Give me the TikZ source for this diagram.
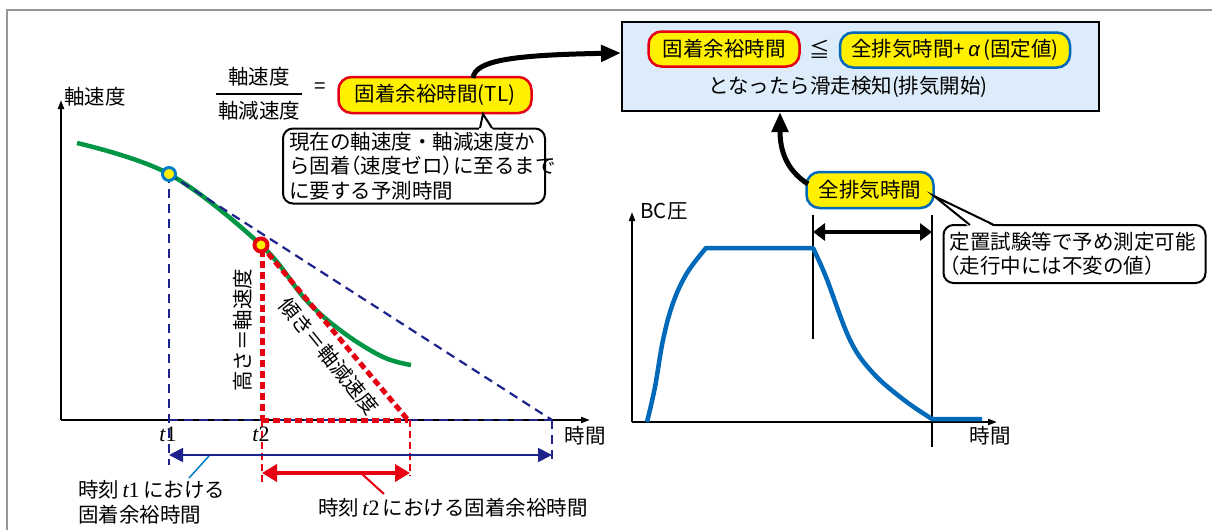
\documentclass[tikz,border=0pt]{standalone}
\usepackage[no-math]{fontspec}
\setmainfont{Noto Sans CJK JP}
\newfontfamily\hwfont[RawFeature=+halt]{Noto Sans CJK JP}
\newfontfamily\serifx{Liberation Serif}
\newfontfamily\sansx{Liberation Sans}
\newcommand{\hwp}[1]{{\hwfont #1}}
\newcommand{\tlab}[1]{{\serifx\fontsize{22}{24}\selectfont\itshape t\upshape #1}}
\usetikzlibrary{arrows.meta}
\definecolor{navy}{RGB}{30,35,140}
\definecolor{myred}{RGB}{230,0,18}
\definecolor{mygreen}{RGB}{0,150,70}
\definecolor{myblue}{RGB}{0,105,185}
\definecolor{ptblue}{RGB}{0,125,200}
\definecolor{myyellow}{RGB}{255,240,0}
\definecolor{boxblue}{RGB}{220,236,250}
\definecolor{framegray}{RGB}{150,150,150}
\begin{document}
\begin{tikzpicture}[x=1pt,y=-1pt,
  txt/.style={font=\fontsize{20.5}{24.5}\selectfont, inner sep=0pt},
  pill/.style={txt, rounded corners=13pt, fill=myyellow, line width=2.5pt, minimum height=36pt},
  pillred/.style={pill, draw=myred},
  pillblue/.style={pill, draw=myblue},
  axis/.style={line width=2pt, -{Triangle[length=9pt,width=6pt]}},
  bdash/.style={navy, line width=2.2pt, dash pattern=on 9pt off 6pt},
  rdash/.style={myred, line width=5pt, dash pattern=on 7pt off 4pt},
  rthin/.style={myred, line width=2pt, dash pattern=on 7pt off 4pt},
  callout/.style={txt, draw, fill=white, line width=2pt, rounded corners=10pt, align=left, inner xsep=6pt},
  bigarrow/.style={line width=5pt, -{Triangle[length=20pt,width=16pt]}},
  dot/.style={circle, fill=myyellow, minimum size=13pt, inner sep=0pt},
]
\useasboundingbox (0,0) rectangle (1212,530);
% frame
\coordinate (f1) at (7,530); \coordinate (f2) at (7,10); \coordinate (f3) at (1212,10);
\draw[framegray, line width=2.5pt] (f1) -- (f2) -- (f3);

% ===== left chart =====
\coordinate (O1) at (61,420); \coordinate (Y1) at (61,100); \coordinate (X1) at (590,420);
\draw[axis] (O1) -- (Y1);
\draw[axis] (O1) -- (X1);
\node[txt] (ylab1) at (95,97) {軸速度};
\node[txt] (xlab1) at (585,436) {時間};

\coordinate (P1) at (169,174);
\coordinate (P2) at (261,245);
\draw[mygreen, line width=4.5pt] plot[smooth, tension=0.6] coordinates {(77,143) (P1) (P2) (306,300) (344,333) (383,357) (411,365)};

\coordinate (E1) at (552,420);
\coordinate (T1a) at (169,420); \coordinate (T1b) at (169,465);
\coordinate (E1b) at (552,462);
\draw[bdash] (P1) -- (E1);
\draw[bdash] (P1) -- (T1b);
\draw[bdash] (T1a) -- (E1);
\draw[bdash] (E1) -- (E1b);

\coordinate (T2a) at (262,420); \coordinate (T2b) at (262,482);
\coordinate (E2) at (408,420); \coordinate (E2b) at (410,476); \coordinate (E2a) at (410,420);
\coordinate (P2v) at (262,250);
\draw[rdash] (P2) -- (E2);
\draw[rdash] (P2v) -- (T2a);
\draw[rdash] (T2a) -- (E2);
\draw[rthin] (T2a) -- (T2b);
\draw[rthin] (E2a) -- (E2b);

\node[dot, draw=ptblue, line width=3pt] (d1) at (P1) {};
\node[dot, draw=myred, line width=4pt] (d2) at (P2) {};

\node[txt, rotate=90] (hlab) at (243,330) {高さ＝軸速度};
\node[txt, rotate=-51] (slab) at (329,356) {傾き＝軸減速度};

\node[inner sep=0pt] (t1) at (168,434) {\tlab{1}};
\node[inner sep=0pt] (t2) at (261,434) {\tlab{2}};

\coordinate (A1) at (169,455); \coordinate (A2) at (552,455);
\draw[navy, line width=1.8pt, {Triangle[length=14pt,width=14pt]}-{Triangle[length=14pt,width=14pt]}] (A1) -- (A2);
\coordinate (B1) at (209,456); \coordinate (B2) at (189,478);
\draw[ptblue, line width=1.5pt] (B1) -- (B2);
\node[txt, align=left, anchor=west] (l1) at (78,502) {時刻\,\tlab{1}\,における\\固着余裕時間};

\coordinate (C1) at (262,473); \coordinate (C2) at (410,473);
\draw[myred, line width=4.5pt, {Triangle[length=15pt,width=17pt]}-{Triangle[length=15pt,width=17pt]}] (C1) -- (C2);
\coordinate (D1) at (362,474); \coordinate (D2) at (384,494);
\draw[myred, line width=2pt] (D1) -- (D2);
\node[txt] (l2) at (453,508) {時刻\,\tlab{2}\,における固着余裕時間};

% fraction
\node[txt] (num) at (259,77) {軸速度};
\node[txt] (den) at (259,111) {軸減速度};
\coordinate (fb1) at (216,94); \coordinate (fb2) at (302,94);
\draw[line width=1.5pt] (fb1) -- (fb2);
\node[txt] (eq) at (320,88) {=};

\node[pillred, minimum width=193pt] (tl) at (435,95) {固着余裕時間(TL)};

% callout 1
\node[callout, text width=250pt, minimum height=75pt] (note1) at (414,166) {現在の軸速度・軸減速度か\\ら固着\hwp{（}速度ゼロ\hwp{）}に至るまで\\に要する予測時間};
\coordinate (q1) at (480,128); \coordinate (q2) at (483,114); \coordinate (q3) at (492,128);
\fill[white] (479,130) -- (q2) -- (493,130) -- cycle;
\draw[line width=2pt] (q1) -- (q2) -- (q3);

% ===== right box =====
\node[draw, fill=boxblue, line width=2pt, minimum width=477pt, minimum height=89pt, inner sep=0pt] (rbox) at (860.5,66.5) {};
\node[pillred, minimum width=151pt, minimum height=35pt] (p1) at (724,49) {固着余裕時間};
\node[txt] (leq) at (820,49) {≦};
\node[pillblue, minimum width=230pt, minimum height=35pt] (p2) at (955,50) {全排気時間+\,{\sansx\itshape α}\,(固定値)};
\node[txt] (cond) at (848,87) {となったら滑走検知(排気開始)};

\coordinate (s1) at (473,78); \coordinate (s2) at (621,53);
\draw[bigarrow] (s1) .. controls (475,60) and (515,55) .. (s2);

\node[pillblue, minimum width=127pt] (zen) at (870,190) {全排気時間};
\coordinate (s3) at (808,184); \coordinate (s4) at (780,112);
\draw[bigarrow] (s3) .. controls (786,170) and (780,150) .. (s4);

% callout 2
\node[callout, text width=250pt, minimum height=58pt] (note2) at (1074.5,254) {定置試験等で予め測定可能\\\hwp{（}走行中には不変の値\hwp{）}};
\coordinate (r1) at (970,225); \coordinate (r2) at (934,196); \coordinate (r3) at (994,225);
\fill[white] (969,227) -- (r2) -- (995,227) -- cycle;
\draw[line width=2pt] (r1) -- (r2) -- (r3);

% ===== BC chart =====
\coordinate (O2) at (632,422); \coordinate (Y2) at (632,212); \coordinate (X2) at (997,422);
\draw[axis] (O2) -- (Y2);
\draw[axis] (O2) -- (X2);
\node[txt] (bclab) at (664,211) {BC圧};
\node[txt] (xlab2) at (990,436) {時間};

\coordinate (v1a) at (813,215); \coordinate (v1b) at (813,339);
\coordinate (v2a) at (932,215); \coordinate (v2b) at (932,447);
\draw[line width=1.3pt] (v1a) -- (v1b);
\draw[line width=1.3pt] (v2a) -- (v2b);

\draw[myblue, line width=4.5pt, line join=round]
  plot[smooth, tension=0.6] coordinates {(647,422) (655,387) (663,340) (673,303) (687,273) (706,248)}
  -- plot[smooth, tension=0.6] coordinates {(813,248) (826,277) (850,340) (873,373) (904,400) (932,419)}
  -- (982,419);

\coordinate (w1) at (813,232); \coordinate (w2) at (932,232);
\draw[line width=4pt, {Triangle[length=12pt,width=17pt]}-{Triangle[length=12pt,width=17pt]}] (w1) -- (w2);
\end{tikzpicture}
\end{document}
